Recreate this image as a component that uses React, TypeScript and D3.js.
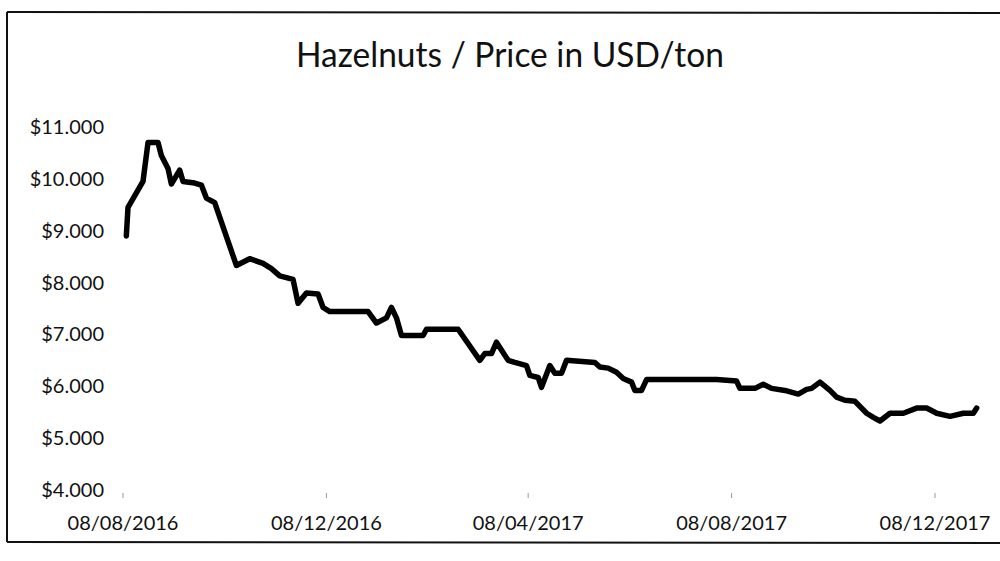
import React from "react";
import * as d3 from "d3";

const title = "Hazelnuts / Price in USD/ton";
const yTicks = [4000, 5000, 6000, 7000, 8000, 9000, 10000, 11000];
const xTickDates = ["2016-08-08", "2016-12-08", "2017-04-08", "2017-08-08", "2017-12-08"];
const xTickLabels = ["08/08/2016", "08/12/2016", "08/04/2017", "08/08/2017", "08/12/2017"];

const dates = [
  "2016-08-10", "2016-08-11", "2016-08-20", "2016-08-23", "2016-08-29", "2016-08-31",
  "2016-09-04", "2016-09-06", "2016-09-11", "2016-09-13", "2016-09-20", "2016-09-24",
  "2016-09-27", "2016-10-02", "2016-10-15", "2016-10-23", "2016-10-31", "2016-11-05",
  "2016-11-10", "2016-11-18", "2016-11-21", "2016-11-26", "2016-12-03", "2016-12-06",
  "2016-12-10", "2017-01-02", "2017-01-07", "2017-01-13", "2017-01-16", "2017-01-19",
  "2017-01-22", "2017-02-04", "2017-02-06", "2017-02-25", "2017-03-10", "2017-03-13",
  "2017-03-17", "2017-03-20", "2017-03-22", "2017-03-27", "2017-03-31", "2017-04-07",
  "2017-04-09", "2017-04-14", "2017-04-16", "2017-04-21", "2017-04-24", "2017-04-28",
  "2017-05-01", "2017-05-18", "2017-05-21", "2017-05-26", "2017-05-31", "2017-06-04",
  "2017-06-09", "2017-06-11", "2017-06-15", "2017-06-18", "2017-07-30", "2017-08-11",
  "2017-08-13", "2017-08-22", "2017-08-27", "2017-09-01", "2017-09-09", "2017-09-17",
  "2017-09-22", "2017-09-25", "2017-09-30", "2017-10-06", "2017-10-10", "2017-10-15",
  "2017-10-21", "2017-10-28", "2017-11-01", "2017-11-05", "2017-11-11", "2017-11-19",
  "2017-11-27", "2017-12-03", "2017-12-09", "2017-12-17", "2017-12-25", "2017-12-31",
  "2018-01-02",
];
const prices = [
  8900, 9450, 9950, 10700, 10700, 10450,
  10200, 9900, 10170, 9950, 9920, 9880,
  9630, 9540, 8330, 8460, 8370, 8270,
  8130, 8060, 7600, 7800, 7780, 7520,
  7440, 7440, 7220, 7320, 7520, 7320,
  6980, 6980, 7100, 7100, 6500, 6630,
  6630, 6850, 6750, 6500, 6460, 6400,
  6210, 6170, 5980, 6400, 6250, 6250,
  6500, 6460, 6370, 6350, 6270, 6150,
  6080, 5920, 5920, 6130, 6130, 6100,
  5960, 5960, 6040, 5960, 5920, 5850,
  5940, 5960, 6080, 5920, 5790, 5730,
  5710, 5480, 5400, 5330, 5480, 5480,
  5580, 5580, 5480, 5420, 5480, 5480,
  5580,
];

const W = 1000;
const H = 561;
const font = "Lato, 'Open Sans', sans-serif";

export default function App() {
  const parse = d3.utcParse("%Y-%m-%d");
  const x = d3
    .scaleUtc()
    .domain([parse(xTickDates[0])!, parse(xTickDates[xTickDates.length - 1])!])
    .range([123, 935]);
  const y = d3.scaleLinear().domain([4000, 11000]).range([490, 127]);

  const data = dates.map((d, i) => ({ date: parse(d)!, value: prices[i] }));
  const line = d3
    .line<{ date: Date; value: number }>()
    .x((d) => x(d.date))
    .y((d) => y(d.value));

  return (
    <svg
      width={W}
      height={H}
      style={{ position: "absolute", left: 0, top: 0, background: "#fff" }}
    >
      <rect x={0} y={0} width={W} height={H} fill="#fff" />
      {/* chart border (scanned) */}
      <line x1={7} y1={12} x2={W} y2={13} stroke="#111" strokeWidth={2} />
      <line x1={7} y1={12} x2={7} y2={542} stroke="#111" strokeWidth={2} />
      <line x1={7} y1={542} x2={W} y2={543} stroke="#111" strokeWidth={2} />

      <text
        x={510}
        y={67}
        textAnchor="middle"
        fontFamily={font}
        fontSize={35}
        fill="#111"
        textLength={428}
        lengthAdjust="spacingAndGlyphs"
      >
        {title}
      </text>

      {yTicks.map((t) => (
        <text
          key={t}
          x={104}
          y={y(t) + 7}
          textAnchor="end"
          fontFamily={font}
          fontSize={20}
          fill="#111"
        >
          {"$" + d3.format(",")(t).replace(",", ".")}
        </text>
      ))}

      {xTickDates.map((d, i) => (
        <g key={d}>
          <line
            x1={x(parse(d)!)}
            x2={x(parse(d)!)}
            y1={493}
            y2={498}
            stroke="#999"
            strokeWidth={1}
          />
          <text
            x={x(parse(d)!)}
            y={530}
            textAnchor="middle"
            fontFamily={font}
            fontSize={20}
            fill="#111"
          >
            {xTickLabels[i]}
          </text>
        </g>
      ))}

      <path
        d={line(data) || ""}
        fill="none"
        stroke="#000"
        strokeWidth={5.5}
        strokeLinejoin="round"
        strokeLinecap="round"
      />
    </svg>
  );
}
